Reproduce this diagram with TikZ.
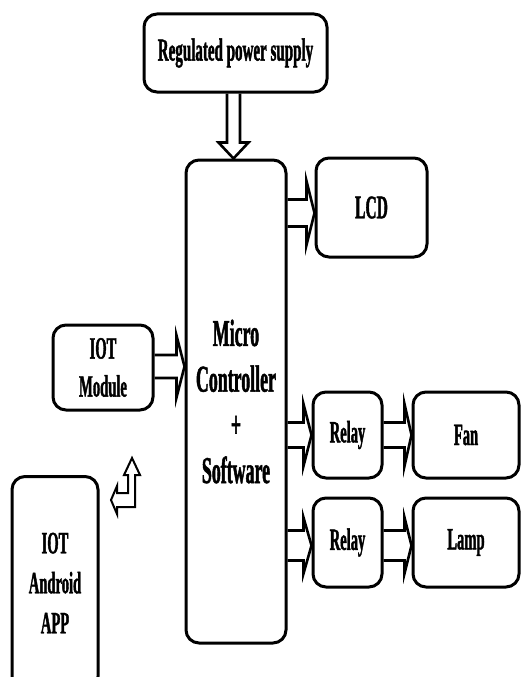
\documentclass[tikz,border=0pt]{standalone}
\usepackage{fontspec}
\setmainfont[FakeStretch=0.47, BoldFeatures={FakeBold=1.2}]{Liberation Serif}
\usetikzlibrary{calc}
\tikzset{
  blk/.style={draw, line width=3pt, rounded corners=13pt, align=center, inner sep=0pt,
              font=\fontsize{31}{38}\selectfont\bfseries},
  harrow/.style={draw, line width=2.6pt, line join=miter},
}
\newcommand\hollowright[5]{%
  \draw[harrow] let \p1=#1, \p2=#2 in
    (\x1,\y2+#3) -- (\x2-#5,\y2+#3) -- (\x2-#5,\y2+#4) -- (\x2,\y2)
    -- (\x2-#5,\y2-#4) -- (\x2-#5,\y2-#3) -- (\x1,\y2-#3);}
\newcommand\hollowdown[5]{%
  \draw[harrow] let \p1=#1, \p2=#2 in
    (\x2-#3,\y1) -- (\x2-#3,\y2+#5) -- (\x2-#4,\y2+#5) -- (\x2,\y2)
    -- (\x2+#4,\y2+#5) -- (\x2+#3,\y2+#5) -- (\x2+#3,\y1);}
\begin{document}
\begin{tikzpicture}[x=1pt,y=-1pt]
\clip (0,0) rectangle (521,677);
\fill[white] (0,0) rectangle (521,677);
% boxes
\node[blk, minimum width=183pt, minimum height=78pt, font=\fontsize{32}{40}\selectfont\bfseries] (ps) at (235.5,53) {Regulated power supply};
\node[blk, minimum width=100pt, minimum height=483pt, font=\fontsize{38}{45.7}\selectfont\bfseries] (mc) at (236,401.5) {Micro\\Controller\\+\\Software};
\node[blk, minimum width=111pt, minimum height=99pt, font=\fontsize{33}{40}\selectfont\bfseries] (lcd) at (371.5,207.5) {LCD};
\node[blk, minimum width=100pt, minimum height=85pt] (iot) at (103,367.5) {IOT\\Module};
\node[blk, minimum width=86pt, minimum height=213pt, font=\fontsize{31}{40}\selectfont\bfseries] (app) at (55,583) {IOT\\Android\\APP};
\node[blk, minimum width=69pt, minimum height=86pt] (r1) at (347.5,435) {Relay};
\node[blk, minimum width=106pt, minimum height=86pt] (fan) at (466,435) {Fan};
\node[blk, minimum width=69pt, minimum height=89pt] (r2) at (347.5,542.5) {Relay};
\node[blk, minimum width=106pt, minimum height=89pt] (lamp) at (466,542.5) {Lamp};
% hollow arrows
\hollowdown{(ps.south)}{([xshift=-2.5pt]mc.north)}{6.5pt}{15pt}{16pt}
\hollowright{(mc.east)}{([yshift=-5.5pt]lcd.west)}{13.5pt}{32pt}{8pt}
\hollowright{(iot.east)}{([yshift=1pt]mc.west |- iot.east)}{11.5pt}{31pt}{8pt}
\hollowright{(mc.east)}{(r1.west)}{12.5pt}{31pt}{8pt}
\hollowright{(r1.east)}{(fan.west)}{12.5pt}{31pt}{7pt}
\hollowright{(mc.east)}{([yshift=-3pt]r2.west)}{15pt}{28pt}{8pt}
\hollowright{(r2.east)}{([yshift=-3pt]lamp.west)}{15pt}{28pt}{7pt}
% bent two-way arrow between app and iot module
\draw[harrow, line width=2pt] (132,458) -- (140,475) -- (135,475) -- (135,507) -- (117,507)
  -- (117,514) -- (111,500) -- (117,486) -- (117,493) -- (128,493) -- (128,475)
  -- (124,475) -- cycle;
\end{tikzpicture}
\end{document}
